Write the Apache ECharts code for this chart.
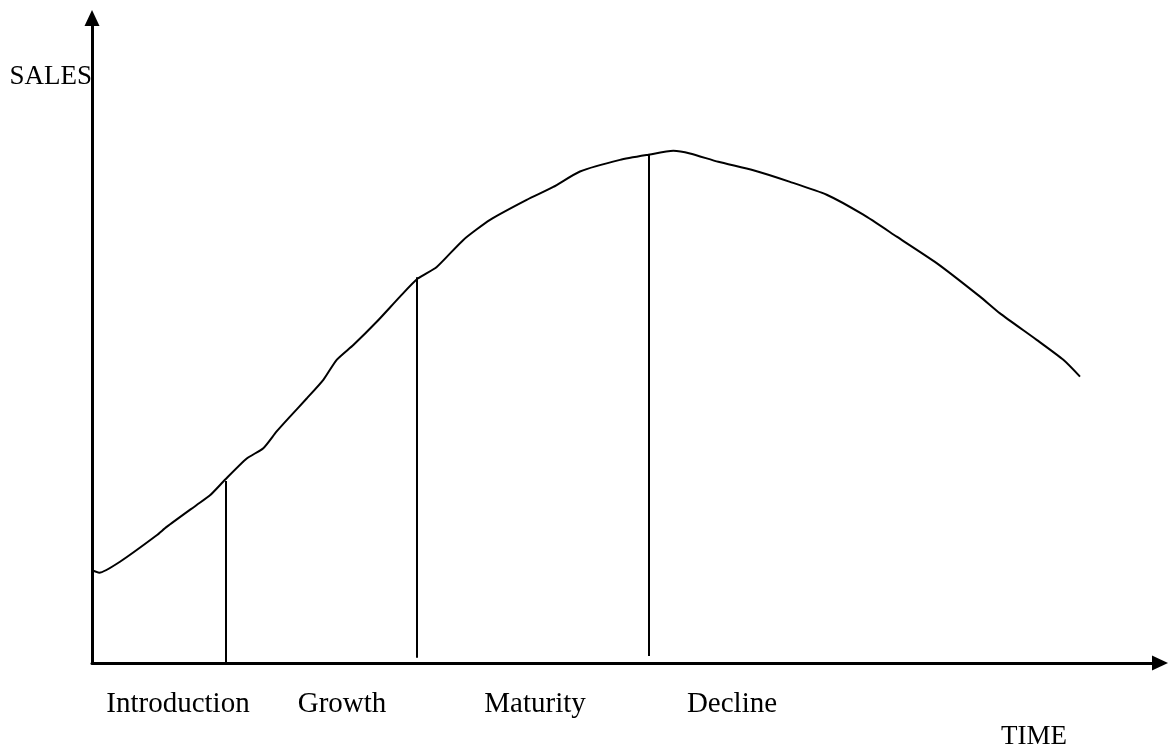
<!DOCTYPE html>
<html><head><meta charset="utf-8">
<script src="https://cdn.jsdelivr.net/npm/echarts@6/dist/echarts.min.js"></script>
<style>html,body{margin:0;padding:0;background:#fff}#c{width:1173px;height:749px}</style>
</head><body><div id="c"></div>
<script>
// Product life cycle curve: time (x) vs sales (y), arbitrary units 0..100
const curveTime  = [0, 0.68, 2.62, 6.06, 6.99, 9.80, 11.05, 12.45, 14.49, 16.04, 17.29, 18.54, 20.10, 21.66, 22.91, 24.47, 26.66, 28.84, 30.50, 32.28, 34.77, 37.27, 40.70, 43.19, 45.69, 49.44, 52.09, 54.43, 55.99, 58.64, 61.92, 65.36, 68.79, 72.22, 75.35, 79.09, 83.15, 85.02, 88.45, 90.95, 92.51];
const curveSales = [14.4, 14.0, 15.7, 19.8, 21.1, 24.5, 26.0, 28.4, 31.7, 33.3, 35.9, 38.2, 41.0, 43.9, 47.0, 49.3, 52.9, 56.8, 59.6, 61.4, 65.6, 68.7, 71.8, 73.8, 76.2, 78.0, 78.8, 79.4, 79.0, 77.7, 76.4, 74.6, 72.6, 69.5, 66.1, 62.0, 56.8, 54.2, 50.1, 47.0, 44.4];
// Stage boundary lines
const boundaryTime   = [12.55, 30.43, 52.15];
const boundaryTop    = [28.2, 59.8, 78.9];
const boundaryBottom = [0, 0.8, 1.1];
// Stage labels
const stageNames = ['Introduction', 'Growth', 'Maturity', 'Decline'];
const stageCenterX = [178, 342, 535, 732];
const axisTitleX = 'TIME';
const axisTitleY = 'SALES';

const FONT = '"Liberation Serif", "DejaVu Serif", serif';
const chart = echarts.init(document.getElementById('c'));
const axisLine = { show: true, symbol: ['none', 'triangle'], symbolSize: [15, 16], lineStyle: { color: '#000', width: 3 } };
const graphics = stageNames.map((n, i) => ({
  type: 'text', x: stageCenterX[i], y: 704,
  style: { text: n, font: '29px ' + FONT, fill: '#000', textAlign: 'center', textVerticalAlign: 'middle' }
}));
graphics.push({ type: 'text', x: 92, y: 77, style: { text: axisTitleY, font: '27px ' + FONT, fill: '#000', textAlign: 'right', textVerticalAlign: 'middle' } });
graphics.push({ type: 'text', x: 1034, y: 737, style: { text: axisTitleX, font: '27px ' + FONT, fill: '#000', textAlign: 'center', textVerticalAlign: 'middle' } });

chart.setOption({
  animation: false,
  grid: { left: 92, right: 13, top: 18, bottom: 86 },
  xAxis: { type: 'value', min: 0, max: 100, axisLine, axisTick: { show: false }, axisLabel: { show: false }, splitLine: { show: false } },
  yAxis: { type: 'value', min: 0, max: 100, axisLine, axisTick: { show: false }, axisLabel: { show: false }, splitLine: { show: false } },
  graphic: graphics,
  series: [{
    type: 'line', smooth: 0.2, symbol: 'none',
    lineStyle: { color: '#000', width: 2 },
    data: curveTime.map((t, i) => [t, curveSales[i]]),
    markLine: {
      silent: true, symbol: ['none', 'none'], label: { show: false },
      lineStyle: { color: '#000', width: 2, type: 'solid' },
      data: boundaryTime.map((t, i) => [{ coord: [t, boundaryBottom[i]] }, { coord: [t, boundaryTop[i]] }])
    }
  }]
});
</script></body></html>
